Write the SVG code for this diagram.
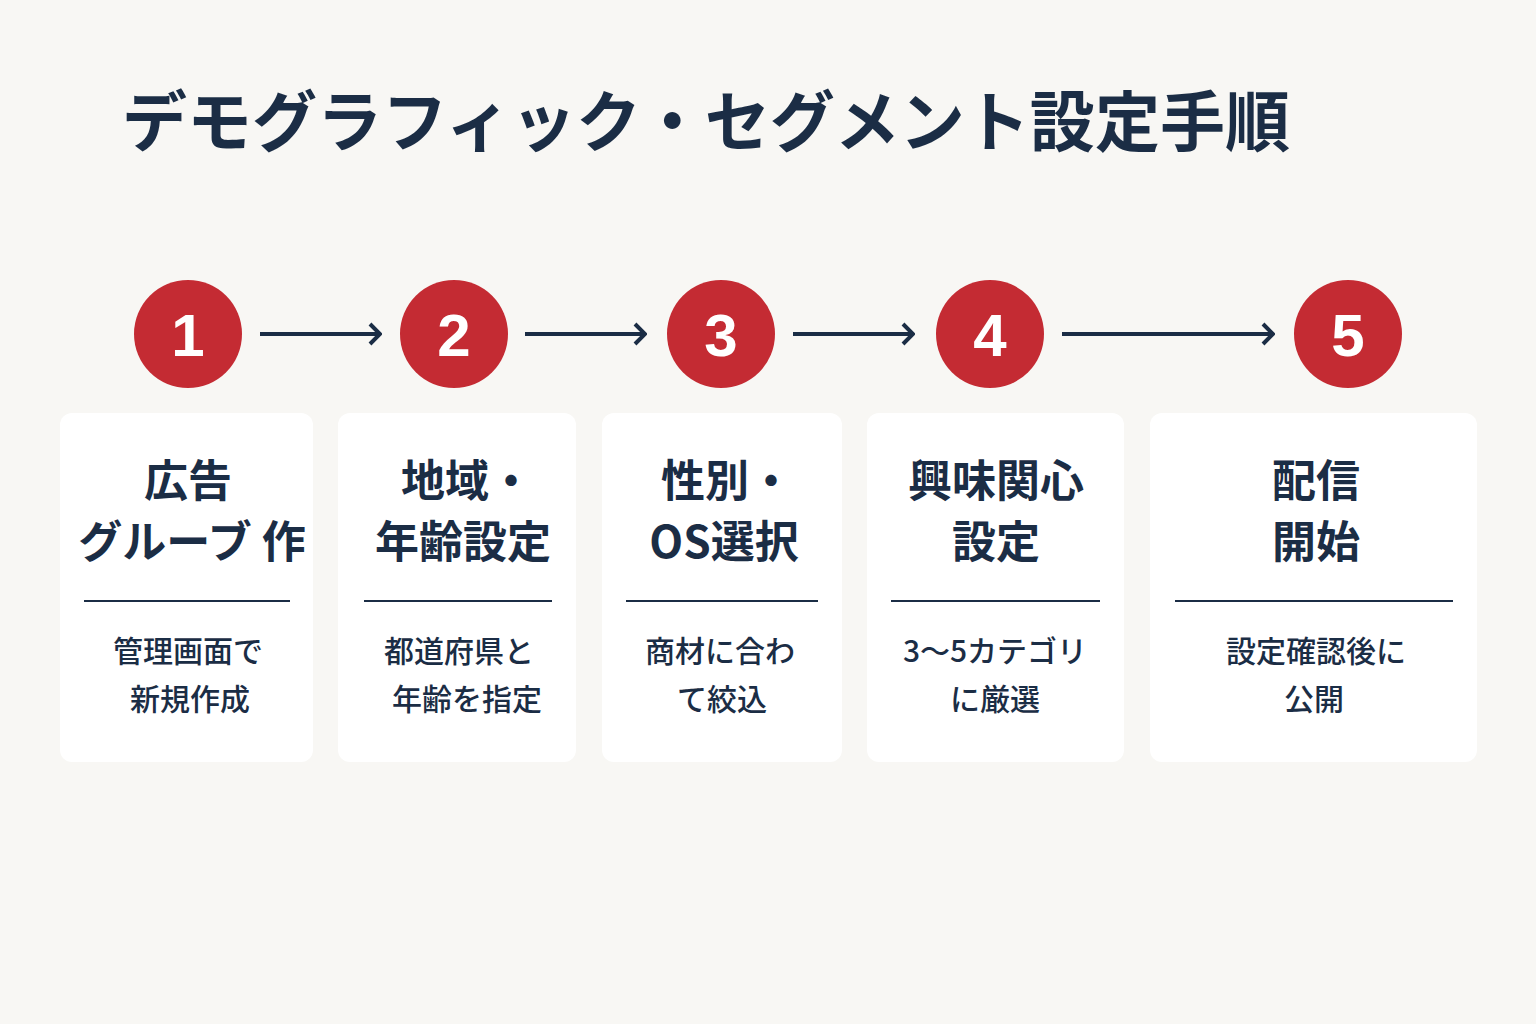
<svg xmlns="http://www.w3.org/2000/svg" width="1536" height="1024" viewBox="0 0 1536 1024">
<style>
.t{font-family:"Noto Sans CJK JP","Noto Sans",sans-serif;fill:#1b2d45;text-anchor:middle}
.title{font-size:66px;font-weight:700;text-anchor:start}
.h{font-size:44px;font-weight:700}
.s{font-size:30px;font-weight:500}
.card{fill:#ffffff}
.circ{fill:#c42b33}
.num{font-family:"Liberation Sans","Noto Sans",sans-serif;font-size:60px;font-weight:700;fill:#ffffff;text-anchor:middle}
.div{stroke:#1b2d45;stroke-width:2}
.arr{stroke:#1b2d45;stroke-width:4;fill:none}
</style>
<defs>
<marker id="ah" viewBox="0 0 14 24" refX="12" refY="12" markerWidth="14" markerHeight="24" markerUnits="userSpaceOnUse" orient="auto">
<path d="M2 2 L12 12 L2 22" fill="none" stroke="#1b2d45" stroke-width="4"/>
</marker>
</defs>
<rect width="1536" height="1024" fill="#f8f7f4"/>
<text class="t title" x="122" y="146" textLength="1168" lengthAdjust="spacingAndGlyphs">デモグラフィック・セグメント設定手順</text>
<g id="connectors">
<line class="arr" x1="260" y1="334" x2="380" y2="334" marker-end="url(#ah)"/>
<line class="arr" x1="525" y1="334" x2="645" y2="334" marker-end="url(#ah)"/>
<line class="arr" x1="793" y1="334" x2="913" y2="334" marker-end="url(#ah)"/>
<line class="arr" x1="1062" y1="334" x2="1273" y2="334" marker-end="url(#ah)"/>
</g>
<g id="step1">
<circle class="circ" cx="188" cy="334" r="54"/>
<text class="num" x="188" y="356">1</text>
<rect class="card" x="60" y="413" width="253" height="349" rx="12"/>
<text class="t h" x="188" y="497">広告</text>
<text class="t h" x="192" y="558">グルーブ 作</text>
<line class="div" x1="84" y1="601" x2="290" y2="601"/>
<text class="t s" x="188" y="662">管理画面で</text>
<text class="t s" x="190" y="710">新規作成</text>
</g>
<g id="step2">
<circle class="circ" cx="454" cy="334" r="54"/>
<text class="num" x="454" y="356">2</text>
<rect class="card" x="338" y="413" width="238" height="349" rx="12"/>
<text class="t h" x="467" y="497">地域・</text>
<text class="t h" x="463" y="558">年齢設定</text>
<line class="div" x1="364" y1="601" x2="552" y2="601"/>
<text class="t s" x="459" y="662">都道府県と</text>
<text class="t s" x="467" y="710">年齢を指定</text>
</g>
<g id="step3">
<circle class="circ" cx="721" cy="334" r="54"/>
<text class="num" x="721" y="356">3</text>
<rect class="card" x="602" y="413" width="240" height="349" rx="12"/>
<text class="t h" x="727" y="497">性別・</text>
<text class="t h" x="724" y="558">OS選択</text>
<line class="div" x1="626" y1="601" x2="818" y2="601"/>
<text class="t s" x="720" y="662">商材に合わ</text>
<text class="t s" x="722" y="710">て絞込</text>
</g>
<g id="step4">
<circle class="circ" cx="990" cy="334" r="54"/>
<text class="num" x="990" y="356">4</text>
<rect class="card" x="867" y="413" width="257" height="349" rx="12"/>
<text class="t h" x="996" y="497">興味関心</text>
<text class="t h" x="996" y="558">設定</text>
<line class="div" x1="891" y1="601" x2="1100" y2="601"/>
<text class="t s" x="995" y="662">3〜5カテゴリ</text>
<text class="t s" x="995" y="710">に厳選</text>
</g>
<g id="step5">
<circle class="circ" cx="1348" cy="334" r="54"/>
<text class="num" x="1348" y="356">5</text>
<rect class="card" x="1150" y="413" width="327" height="349" rx="12"/>
<text class="t h" x="1316" y="497">配信</text>
<text class="t h" x="1316" y="558">開始</text>
<line class="div" x1="1175" y1="601" x2="1453" y2="601"/>
<text class="t s" x="1316" y="662">設定確認後に</text>
<text class="t s" x="1314" y="710">公開</text>
</g>
</svg>
